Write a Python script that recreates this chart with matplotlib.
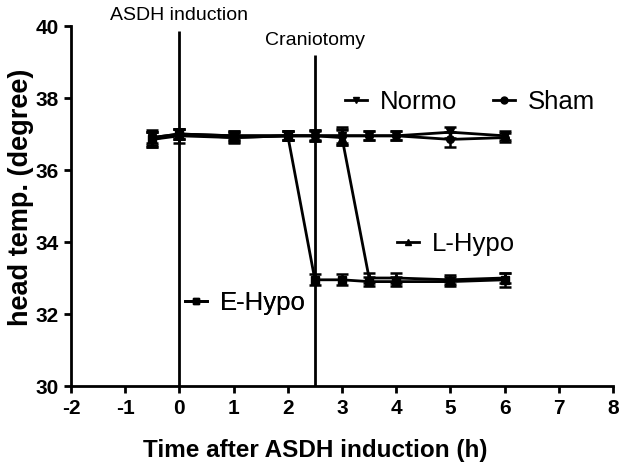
import matplotlib
matplotlib.use("Agg")
import matplotlib.pyplot as plt
from matplotlib.lines import Line2D

plt.rcParams['font.family'] = ['Liberation Sans', 'DejaVu Sans']

t = [-0.5, 0, 1, 2, 2.5, 3, 3.5, 4, 5, 6]
normo = [36.9, 37.0, 36.95, 36.95, 36.95, 36.95, 36.95, 36.95, 37.05, 36.95]
normo_err = [0.2, 0.15, 0.12, 0.12, 0.15, 0.2, 0.12, 0.12, 0.15, 0.12]
sham = [36.85, 36.95, 36.9, 36.95, 36.95, 36.95, 36.95, 36.95, 36.85, 36.9]
sham_err = [0.2, 0.2, 0.12, 0.12, 0.15, 0.25, 0.12, 0.12, 0.2, 0.12]
lhypo = [36.9, 37.0, 36.95, 36.95, 36.95, 36.9, 33.0, 33.0, 32.95, 33.0]
lhypo_err = [0.15, 0.15, 0.12, 0.12, 0.12, 0.2, 0.15, 0.15, 0.12, 0.15]
ehypo = [36.85, 37.0, 36.9, 36.95, 32.95, 32.95, 32.9, 32.9, 32.9, 32.95]
ehypo_err = [0.2, 0.15, 0.15, 0.12, 0.15, 0.15, 0.12, 0.12, 0.12, 0.2]

events = [0, 2.5]
event_tops = [39.85, 39.2]
event_labels = ["ASDH induction", "Craniotomy"]

fig = plt.figure(figsize=(6.29, 4.73), dpi=100)
ax = fig.add_axes([71 / 629, 1 - 386 / 473, 542 / 629, 360 / 473])

series = [
    ("Normo", normo, normo_err, "v"),
    ("Sham", sham, sham_err, "o"),
    ("L-Hypo", lhypo, lhypo_err, "^"),
    ("E-Hypo", ehypo, ehypo_err, "s"),
]
for name, y, e, m in series:
    ax.errorbar(t, y, yerr=e, color="black", marker=m, markersize=5.5,
                linewidth=2, elinewidth=1.8, capsize=4, capthick=1.8)

for ev, top in zip(events, event_tops):
    ax.vlines(ev, 30, top, color="black", linewidth=2)

ax.set_xlim(-2, 8)
ax.set_ylim(30, 40)
ax.set_xticks(range(-2, 9))
ax.set_yticks(range(30, 41, 2))
ax.set_xticklabels([str(v) for v in range(-2, 9)])
for s in ["top", "right"]:
    ax.spines[s].set_visible(False)
for s in ["left", "bottom"]:
    ax.spines[s].set_linewidth(2)
ax.tick_params(direction="out", width=2, length=5, labelsize=15, pad=4)
for lab in ax.get_xticklabels() + ax.get_yticklabels():
    lab.set_fontweight("bold")
ax.set_xlabel("Time after ASDH induction (h)", fontsize=17.5, fontweight="bold")
ax.set_ylabel("head temp. (degree)", fontsize=19.5, fontweight="bold")
ax.xaxis.label.set_va("center")
ax.yaxis.label.set_va("center")
ax.xaxis.set_label_coords((315 - 71) / 542, (386 - 450) / 360)
ax.yaxis.set_label_coords((21 - 71) / 542, (386 - 197) / 360)

ax.text(0, 40.3, event_labels[0], ha="center", va="center", fontsize=14, clip_on=False)
ax.text(2.5, 39.6, event_labels[1], ha="center", va="center", fontsize=14, clip_on=False)

leg_pos = {"Normo": (0.506, 0.789), "Sham": (0.779, 0.789),
           "L-Hypo": (0.601, 0.394), "E-Hypo": (0.210, 0.231)}
for name, y, e, m in series:
    h = Line2D([], [], color="black", marker=m, markersize=5, linewidth=2)
    lg = ax.legend([h], [name], loc="center left", bbox_to_anchor=leg_pos[name],
                   frameon=False, fontsize=18.5, handlelength=0.86, handletextpad=0.5,
                   borderaxespad=0, borderpad=0)
    ax.add_artist(lg)

fig.savefig("out.png", dpi=100)
